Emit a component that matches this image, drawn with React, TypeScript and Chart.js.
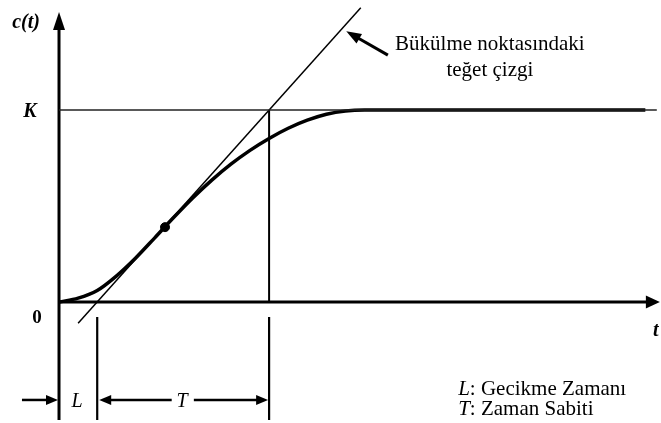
import React, { useEffect, useRef } from "react";
import { Chart, registerables } from "chart.js";

Chart.register(...registerables);

// ---- data ----
const L = 1; // delay time
const T = 4.5; // time constant
const K = 1; // final value
const curveTimes = [0, 0.5, 1, 1.5, 2, 2.5, 3, 3.5, 4, 4.5, 5, 5.5, 6, 6.5, 7, 7.5, 8, 15.35];
const curveValues = [0, 0.02, 0.06, 0.135, 0.228, 0.333, 0.44, 0.542, 0.635, 0.718, 0.79, 0.852, 0.905, 0.947, 0.978, 0.995, 1, 1];
const inflectionTime = 2.775;
const inflectionValue = 0.39;
const tangentTimes = [0.5, 7.9];
const tangentValues = [-0.111, 1.533];

// ---- frame (axis extents, in data units) ----
const xMin = -1.545;
const xMax = 15.76;
const yMin = -0.63;
const yMax = 1.573;
const xAxisEnd = 15.73;
const yAxisTop = 1.52;
const frameBottom = -0.615;
const kLineEnd = 15.65;
const dimGapTop = -0.078;
const dimY = -0.51;
const dimLeftStart = -0.97;

const SERIF = "'Liberation Serif', 'Times New Roman', serif";

const line = (pts: { x: number; y: number }[], width: number, color = "#000") => ({
  data: pts,
  borderColor: color,
  borderWidth: width,
  pointRadius: 0,
  fill: false,
  clip: false as any,
});

function arrowHead(ctx: CanvasRenderingContext2D, x: number, y: number, angle: number, len: number, wid: number) {
  ctx.save();
  ctx.translate(x, y);
  ctx.rotate(angle);
  ctx.beginPath();
  ctx.moveTo(0, 0);
  ctx.lineTo(-len, -wid / 2);
  ctx.lineTo(-len, wid / 2);
  ctx.closePath();
  ctx.fillStyle = "#000";
  ctx.fill();
  ctx.restore();
}

const decorPlugin = {
  id: "decor",
  afterDatasetsDraw(chart: any) {
    const ctx: CanvasRenderingContext2D = chart.ctx;
    const xs = chart.scales.x;
    const ys = chart.scales.y;
    const px = (v: number) => xs.getPixelForValue(v);
    const py = (v: number) => ys.getPixelForValue(v);

    // axis arrowheads
    arrowHead(ctx, px(0), py(yMax) + 12, -Math.PI / 2, 18, 12);
    arrowHead(ctx, px(xAxisEnd), py(0), 0, 14, 13);

    // dimension arrowheads
    arrowHead(ctx, px(0) - 1, py(dimY), 0, 12, 10);
    arrowHead(ctx, px(L) + 2, py(dimY), Math.PI, 12, 10);
    arrowHead(ctx, px(L + T) - 1, py(dimY), 0, 12, 10);

    // pointer arrow to tangent line
    const tipX = px(7.52), tipY = py(1.41);
    const tailX = px(8.61), tailY = py(1.286);
    ctx.save();
    ctx.strokeStyle = "#000";
    ctx.lineWidth = 3;
    ctx.beginPath();
    ctx.moveTo(tailX, tailY);
    const ang = Math.atan2(tipY - tailY, tipX - tailX);
    ctx.lineTo(tipX - Math.cos(ang) * 10, tipY - Math.sin(ang) * 10);
    ctx.stroke();
    ctx.restore();
    arrowHead(ctx, tipX, tipY, ang, 15, 11);

    // texts
    ctx.save();
    ctx.fillStyle = "#000";
    ctx.textBaseline = "alphabetic";
    ctx.textAlign = "center";
    ctx.font = `bold italic 20px ${SERIF}`;
    ctx.fillText("c(t)", px(0) - 33, py(yMax) + 28);
    ctx.fillText("K", px(0) - 29, py(K) + 7);
    ctx.fillText("t", px(xAxisEnd) - 4, py(0) + 34);
    ctx.font = `bold 19px ${SERIF}`;
    ctx.fillText("0", px(0) - 22, py(0) + 21);

    ctx.font = `italic 20px ${SERIF}`;
    ctx.fillText("L", px(L / 2) - 1, py(dimY) + 7);
    ctx.fillText("T", px(L + T / 2) - 1, py(dimY) + 7);

    ctx.font = `21px ${SERIF}`;
    ctx.fillText("Bükülme noktasındaki", px(11.28), py(1.3125));
    ctx.fillText("teğet çizgi", px(11.28), py(1.177));

    ctx.textAlign = "left";
    const lx = px(10.45);
    const drawLegend = (sym: string, txt: string, y: number) => {
      ctx.font = `italic 21px ${SERIF}`;
      ctx.fillText(sym, lx, y);
      const w = ctx.measureText(sym).width;
      ctx.font = `21px ${SERIF}`;
      ctx.fillText(": " + txt, lx + w, y);
    };
    drawLegend("L", "Gecikme Zamanı", py(dimY) - 5);
    drawLegend("T", "Zaman Sabiti", py(dimY) + 15);
    ctx.restore();
  },
};

export default function App() {
  const ref = useRef<HTMLCanvasElement>(null);
  useEffect(() => {
    if (!ref.current) return;
    const curve = curveTimes.map((t, i) => ({ x: t, y: curveValues[i] }));
    const tangent = tangentTimes.map((t, i) => ({ x: t, y: tangentValues[i] }));
    const chart = new Chart(ref.current, {
      type: "line",
      data: {
        datasets: [
          line([{ x: 0, y: K }, { x: kLineEnd, y: K }], 1.6, "#222"),
          line([{ x: 0, y: 0 }, { x: xAxisEnd - 0.2, y: 0 }], 3),
          line([{ x: 0, y: frameBottom }, { x: 0, y: yAxisTop - 0.05 }], 3),
          line([{ x: L + T, y: K }, { x: L + T, y: 0 }], 2),
          line([{ x: L + T, y: dimGapTop }, { x: L + T, y: frameBottom }], 2.2),
          line([{ x: L, y: dimGapTop }, { x: L, y: frameBottom }], 2.2),
          line([{ x: dimLeftStart, y: dimY }, { x: -0.2, y: dimY }], 2.5),
          line([{ x: L + 0.2, y: dimY }, { x: L + T / 2 - 0.3, y: dimY }], 2.5),
          line([{ x: L + T / 2 + 0.28, y: dimY }, { x: L + T - 0.2, y: dimY }], 2.5),
          line(tangent, 1.5),
          {
            ...line(curve, 3.5),
            cubicInterpolationMode: "monotone" as const,
          },
          {
            data: [{ x: inflectionTime, y: inflectionValue }],
            showLine: false,
            pointRadius: 4.5,
            pointBackgroundColor: "#000",
            pointBorderColor: "#000",
            clip: false as any,
          },
        ] as any,
      },
      options: {
        animation: false,
        responsive: true,
        maintainAspectRatio: false,
        layout: { padding: 0, autoPadding: false },
        plugins: { legend: { display: false }, tooltip: { enabled: false } },
        events: [],
        scales: {
          x: { type: "linear", min: xMin, max: xMax, display: false },
          y: { type: "linear", min: yMin, max: yMax, display: false },
        },
      },
      plugins: [decorPlugin],
    });
    return () => chart.destroy();
  }, []);
  return (
    <div style={{ position: "fixed", left: 0, top: 0, width: 661, height: 423, background: "#fff" }}>
      <canvas ref={ref} />
    </div>
  );
}
